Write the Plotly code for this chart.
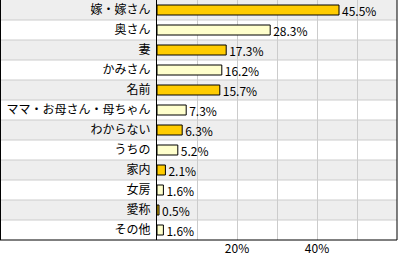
import plotly.graph_objects as go

categories = ["嫁・嫁さん", "奥さん", "妻", "かみさん", "名前", "ママ・お母さん・母ちゃん",
              "わからない", "うちの", "家内", "女房", "愛称", "その他"]
values = [45.5, 28.3, 17.3, 16.2, 15.7, 7.3, 6.3, 5.2, 2.1, 1.6, 0.5, 1.6]
tick_vals = [10, 20, 30, 40, 50]
tick_text = ["", "20%", "", "40%", ""]

W, H = 398, 256
ML, MR, MT, MB = 157, 1, 0, 16
plot_w = W - ML - MR
left_paper = -ML / plot_w

bar_colors = ["#FFCC00" if i % 2 == 0 else "#FFFFCC" for i in range(len(categories))]

fig = go.Figure(go.Bar(
    x=values, y=categories, orientation="h",
    marker=dict(color=bar_colors, line=dict(color="#000000", width=1)),
    width=0.5,
    texttemplate="%{x:.1f}%", textposition="outside", constraintext="none",
    textfont=dict(size=12, color="#000000", family="Noto Sans CJK JP"),
    cliponaxis=False,
))

shapes = []
n = len(categories)
for i in range(n):
    if i % 2 == 0:
        shapes.append(dict(type="rect", xref="paper", yref="y", x0=left_paper, x1=1,
                           y0=i - 0.5, y1=i + 0.5, fillcolor="#EEEEEE",
                           line=dict(width=0), layer="below"))
for i in range(n - 1):
    shapes.append(dict(type="line", xref="paper", yref="y", x0=left_paper, x1=1,
                       y0=i + 0.5, y1=i + 0.5, line=dict(color="#CCCCCC", width=1),
                       layer="below"))
# outer border (left, bottom, right)
shapes.append(dict(type="line", xref="paper", yref="paper", x0=left_paper + 0.5 / plot_w,
                   x1=left_paper + 0.5 / plot_w, y0=0, y1=1, line=dict(color="#000", width=1)))
shapes.append(dict(type="line", xref="paper", yref="paper", x0=left_paper, x1=1,
                   y0=0, y1=0, line=dict(color="#000", width=1)))
shapes.append(dict(type="line", xref="paper", yref="paper", x0=1, x1=1,
                   y0=0, y1=1, line=dict(color="#000", width=1)))

fig.update_layout(
    width=W, height=H,
    margin=dict(l=ML, r=MR, t=MT, b=MB),
    paper_bgcolor="#FFFFFF", plot_bgcolor="rgba(0,0,0,0)",
    showlegend=False,
    font=dict(family="Noto Sans CJK JP", size=12, color="#000000"),
    shapes=shapes,
    bargap=0.5,
)
fig.update_xaxes(range=[0, 60], tickvals=tick_vals, ticktext=tick_text,
                 showgrid=True, gridcolor="#CCCCCC", gridwidth=1,
                 zeroline=False, showline=False, ticks="",
                 tickfont=dict(size=12), fixedrange=True)
fig.update_yaxes(range=[n - 0.5, -0.5], showgrid=False, zeroline=False,
                 showline=True, linecolor="#000000", linewidth=1, ticks="",
                 ticklabelstandoff=3, tickfont=dict(size=12), fixedrange=True)

fig.write_html("out.html", config={"displayModeBar": False})
